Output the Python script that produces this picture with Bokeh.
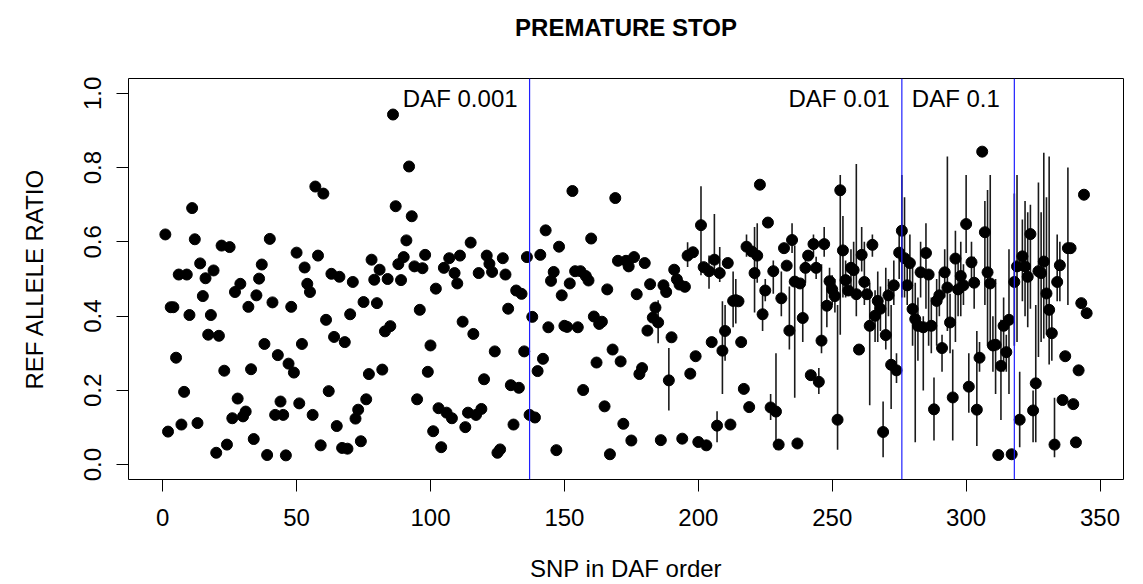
from bokeh.plotting import figure
from bokeh.models import ColumnDataSource, Span, Label, FixedTicker, PrintfTickFormatter, Range1d, Title
from bokeh.embed import file_html
from bokeh.resources import INLINE

# REF allele ratio per SNP, SNPs in DAF order (index 1..N)
ratio = [
    0.620, 0.089, 0.424, 0.424, 0.288, 0.512, 0.108, 0.196, 0.512, 0.403,
    0.691, 0.607, 0.112, 0.542, 0.454, 0.502, 0.350, 0.403, 0.523, 0.032,
    0.347, 0.590, 0.253, 0.054, 0.586, 0.125, 0.465, 0.178, 0.487, 0.130,
    0.143, 0.425, 0.257, 0.069, 0.456, 0.501, 0.539, 0.325, 0.026, 0.608,
    0.437, 0.134, 0.295, 0.170, 0.134, 0.025, 0.272, 0.425, 0.248, 0.571,
    0.165, 0.325, 0.531, 0.487, 0.465, 0.134, 0.749, 0.563, 0.052, 0.730,
    0.390, 0.198, 0.514, 0.344, 0.104, 0.506, 0.045, 0.330, 0.043, 0.405,
    0.492, 0.124, 0.148, 0.063, 0.438, 0.176, 0.244, 0.552, 0.498, 0.435,
    0.525, 0.256, 0.359, 0.500, 0.373, 0.943, 0.696, 0.540, 0.497, 0.559,
    0.604, 0.803, 0.669, 0.534, 0.176, 0.417, 0.529, 0.565, 0.250, 0.321,
    0.090, 0.474, 0.152, 0.047, 0.530, 0.140, 0.556, 0.125, 0.516, 0.488,
    0.563, 0.385, 0.101, 0.140, 0.598, 0.352, 0.134, 0.516, 0.150, 0.230,
    0.563, 0.541, 0.519, 0.305, 0.032, 0.041, 0.556, 0.512, 0.420, 0.214,
    0.108, 0.469, 0.207, 0.460, 0.305, 0.559, 0.134, 0.398, 0.127, 0.252,
    0.565, 0.285, 0.631, 0.370, 0.495, 0.519, 0.039, 0.587, 0.456, 0.374,
    0.371, 0.488, 0.737, 0.521, 0.370, 0.521, 0.201, 0.508, 0.496, 0.609,
    0.399, 0.275, 0.379, 0.385, 0.157, 0.472, 0.028, 0.310, 0.718, 0.549,
    0.278, 0.110, 0.549, 0.534, 0.065, 0.559, 0.459, 0.244, 0.260, 0.543,
    0.361, 0.486, 0.396, 0.423, 0.383, 0.066, 0.483, 0.465, 0.227, 0.343,
    0.525, 0.499, 0.485, 0.070, 0.479, 0.563, 0.245, 0.572, 0.292, 0.061,
    0.645, 0.532, 0.052, 0.521, 0.330, 0.552, 0.105, 0.516, 0.307, 0.360,
    0.543, 0.108, 0.441, 0.443, 0.440, 0.330, 0.204, 0.587, 0.155, 0.574,
    0.516, 0.563, 0.754, 0.405, 0.469, 0.652, 0.154, 0.521, 0.143, 0.054,
    0.448, 0.583, 0.536, 0.361, 0.605, 0.493, 0.057, 0.488, 0.395, 0.530,
    0.563, 0.241, 0.594, 0.530, 0.223, 0.334, 0.594, 0.428, 0.494, 0.472,
    0.454, 0.121, 0.739, 0.577, 0.497, 0.469, 0.530, 0.524, 0.459, 0.310,
    0.565, 0.492, 0.459, 0.374, 0.592, 0.401, 0.441, 0.420, 0.088, 0.349,
    0.456, 0.269, 0.483, 0.254, 0.571, 0.630, 0.556, 0.483, 0.543, 0.419,
    0.392, 0.374, 0.518, 0.370, 0.570, 0.512, 0.374, 0.149, 0.441, 0.456,
    0.314, 0.518, 0.477, 0.383, 0.181, 0.555, 0.472, 0.508, 0.483, 0.648,
    0.210, 0.545, 0.490, 0.148, 0.288, 0.843, 0.626, 0.518, 0.488, 0.321,
    0.323, 0.026, 0.266, 0.374, 0.303, 0.390, 0.028, 0.492, 0.534, 0.121,
    0.561, 0.534, 0.506, 0.621, 0.146, 0.219, 0.521, 0.516, 0.547, 0.461,
    0.417, 0.354, 0.054, 0.492, 0.537, 0.174, 0.292, 0.583, 0.583, 0.163,
    0.060, 0.254, 0.435, 0.727, 0.408,
]
snp = list(range(1, len(ratio) + 1))

# error bars (SNP index, lower, upper)
bar_snp = [185, 189, 196, 201, 204, 206, 207, 208, 209, 210,
           213, 214, 218, 221, 222, 224, 225, 227, 228, 229,
           231, 234, 235, 236, 239, 240, 243, 244, 245, 246,
           247, 248, 249, 250, 251, 252, 253, 254, 255, 257,
           258, 259, 261, 262, 264, 265, 266, 267, 268, 269,
           270, 271, 272, 273, 274, 275, 276, 277, 278, 279,
           280, 281, 282, 283, 284, 285, 286, 287, 288, 289,
           290, 291, 292, 293, 294, 295, 296, 297, 298, 299,
           300, 301, 302, 303, 304, 305, 307, 308, 309, 310,
           311, 313, 314, 315, 316, 318, 319, 320, 321, 322,
           323, 324, 325, 326, 327, 328, 329, 330, 331, 332,
           333, 334, 335, 338]
bar_lo = [0.327, 0.146, 0.532, 0.51, 0.474, 0.51, 0.06, 0.492, 0.19, 0.28,
          0.37, 0.38, 0.56, 0.41, 0.49, 0.36, 0.44, 0.12, 0.46, 0.04,
          0.40, 0.31, 0.57, 0.18, 0.33, 0.49, 0.56, 0.50, 0.19, 0.30,
          0.56, 0.37, 0.45, 0.43, 0.41, 0.04, 0.35, 0.45, 0.45, 0.47,
          0.46, 0.40, 0.52, 0.43, 0.16, 0.56, 0.33, 0.33, 0.36, 0.02,
          0.31, 0.40, 0.15, 0.43, 0.22, 0.50, 0.45, 0.45, 0.43, 0.48,
          0.32, 0.06, 0.28, 0.45, 0.20, 0.42, 0.32, 0.30, 0.065, 0.32,
          0.40, 0.25, 0.45, 0.36, 0.30, 0.065, 0.33, 0.40, 0.40, 0.43,
          0.57, 0.14, 0.50, 0.42, 0.05, 0.25, 0.43, 0.32, 0.32, 0.25,
          0.19, 0.12, 0.25, 0.25, 0.19, 0.32, 0.33, 0.047, 0.44, 0.40,
          0.37, 0.42, 0.06, 0.06, 0.29, 0.33, 0.34, 0.35, 0.27, 0.28,
          0.02, 0.44, 0.44, 0.43]
bar_hi = [0.443, 0.314, 0.599, 0.75, 0.563, 0.675, 0.144, 0.586, 0.44, 0.43,
          0.52, 0.50, 0.62, 0.64, 0.65, 0.46, 0.50, 0.19, 0.55, 0.30,
          0.52, 0.48, 0.65, 0.59, 0.48, 0.56, 0.62, 0.56, 0.26, 0.54,
          0.64, 0.50, 0.53, 0.51, 0.50, 0.43, 0.78, 0.67, 0.55, 0.58,
          0.60, 0.81, 0.64, 0.60, 0.49, 0.62, 0.47, 0.52, 0.48, 0.17,
          0.53, 0.50, 0.43, 0.55, 0.30, 0.62, 0.78, 0.72, 0.56, 0.62,
          0.55, 0.49, 0.45, 0.60, 0.40, 0.65, 0.52, 0.45, 0.235, 0.50,
          0.52, 0.35, 0.58, 0.83, 0.46, 0.31, 0.63, 0.55, 0.60, 0.54,
          0.78, 0.30, 0.60, 0.56, 0.36, 0.33, 0.71, 0.74, 0.78, 0.40,
          0.50, 0.39, 0.45, 0.35, 0.58, 0.73, 0.78, 0.25, 0.66, 0.71,
          0.68, 0.70, 0.20, 0.43, 0.76, 0.68, 0.84, 0.72, 0.83, 0.43,
          0.18, 0.62, 0.60, 0.80]

daf_cut = [137, 276, 318]
x_ticks = [0, 50, 100, 150, 200, 250, 300, 350]
y_ticks = [0.0, 0.2, 0.4, 0.6, 0.8, 1.0]
title_text = "PREMATURE STOP"

FONT = "Liberation Sans"
N = len(ratio)
pad = 0.04 * (N - 1)
Y0, Y1 = -0.04, 1.04

p = figure(width=1143, height=584, output_backend="svg", toolbar_location=None,
           x_range=Range1d(1 - pad, N + pad), y_range=Range1d(Y0, Y1),
           min_border_left=128, min_border_right=20, min_border_top=78,
           min_border_bottom=102)
p.background_fill_color = "white"
p.border_fill_color = "white"
p.outline_line_color = "black"
p.outline_line_width = 1
p.xgrid.visible = False
p.ygrid.visible = False
p.title.visible = False

# blank spacer next to the frame, then the real title above it
p.add_layout(Title(text=" ", text_font_size="32px", standoff=0), "above")
p.add_layout(Title(text=title_text, align="center", text_font=FONT,
                   text_font_size="24px", text_font_style="bold",
                   text_color="black", standoff=0), "above")

for ax in (p.xaxis[0], p.yaxis[0]):
    ax.axis_line_color = None
    ax.major_tick_line_color = "black"
    ax.major_tick_out = 12
    ax.major_tick_in = 0
    ax.minor_tick_line_color = None
    ax.major_label_text_font = FONT
    ax.major_label_text_font_size = "24px"
    ax.major_label_text_color = "black"
    ax.axis_label_text_font = FONT
    ax.axis_label_text_font_size = "24px"
    ax.axis_label_text_font_style = "normal"
    ax.axis_label_text_color = "black"

p.xaxis.ticker = FixedTicker(ticks=x_ticks)
p.yaxis.ticker = FixedTicker(ticks=y_ticks)
p.yaxis.formatter = PrintfTickFormatter(format="%.1f")
p.yaxis.major_label_orientation = "vertical"
p.xaxis.axis_label = "SNP in DAF order"
p.yaxis.axis_label = "REF ALLELE RATIO"
p.xaxis.major_label_standoff = 17
p.xaxis.axis_label_standoff = 26
p.yaxis.major_label_standoff = 15
p.yaxis.axis_label_standoff = 34

bars = ColumnDataSource(dict(x=bar_snp, lo=bar_lo, hi=bar_hi))
p.segment(x0="x", y0="lo", x1="x", y1="hi", source=bars,
          line_color="#1a1a1a", line_width=1.6)

pts = ColumnDataSource(dict(x=snp, y=ratio))
p.scatter(x="x", y="y", source=pts, size=11, fill_color="black", line_color="black")

for c in daf_cut:
    p.add_layout(Span(location=c, dimension="height", line_color="#2020ff", line_width=1.2))

p.add_layout(Label(x=daf_cut[0], y=0.985, text="DAF 0.001", text_align="right",
                   text_baseline="middle", x_offset=-12, text_font=FONT,
                   text_font_size="24px", text_color="black"))
p.add_layout(Label(x=daf_cut[1], y=0.985, text="DAF 0.01", text_align="right",
                   text_baseline="middle", x_offset=-12, text_font=FONT,
                   text_font_size="24px", text_color="black"))
p.add_layout(Label(x=daf_cut[1], y=0.985, text="DAF 0.1", text_align="left",
                   text_baseline="middle", x_offset=10, text_font=FONT,
                   text_font_size="24px", text_color="black"))

open("out.html", "w").write(file_html(p, INLINE))
